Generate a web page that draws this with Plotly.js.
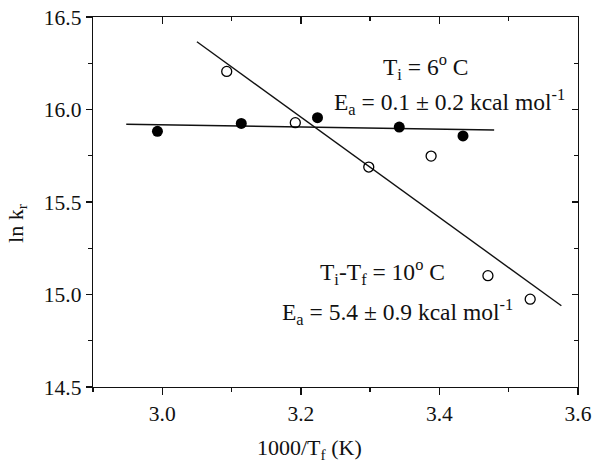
<!DOCTYPE html>
<html>
<head>
<meta charset="utf-8">
<script src="https://cdn.plot.ly/plotly-3.0.1.min.js"></script>
<style>
  body { margin: 0; background: #fff; }
  #plot { width: 602px; height: 474px; }
</style>
</head>
<body>
<div id="plot"></div>
<script>
// Ti = 6 C (filled circles)
const constX = [2.993, 3.114, 3.224, 3.342, 3.434];
const constY = [15.882, 15.925, 15.956, 15.905, 15.857];
// Ti-Tf = 10 C (open circles)
const diffX = [3.093, 3.192, 3.298, 3.388, 3.470, 3.531];
const diffY = [16.206, 15.929, 15.689, 15.748, 15.102, 14.975];
// fit lines, end points
const constFitX = [2.948, 3.479];
const constFitY = [15.920, 15.889];
const diffFitX = [3.050, 3.576];
const diffFitY = [16.366, 14.939];

const serif = 'Liberation Serif, Times New Roman, serif';

const data = [
  { x: constFitX, y: constFitY, mode: 'lines', line: { color: '#111', width: 1.4 }, hoverinfo: 'skip' },
  { x: diffFitX, y: diffFitY, mode: 'lines', line: { color: '#111', width: 1.4 }, hoverinfo: 'skip' },
  { x: constX, y: constY, mode: 'markers',
    marker: { symbol: 'circle', size: 11, color: '#000' } },
  { x: diffX, y: diffY, mode: 'markers',
    marker: { symbol: 'circle-open', size: 10, color: '#000', line: { width: 1.3 } } }
];

const baseAxis = {
  showgrid: false, zeroline: false,
  showline: true, linecolor: '#111', linewidth: 1.3,
  tickcolor: '#111', tickwidth: 1.3,
  tickfont: { family: serif, size: 21.5, color: '#111' }
};

const layout = {
  width: 602, height: 474,
  margin: { l: 93, r: 24, t: 17, b: 87 },
  paper_bgcolor: '#fff', plot_bgcolor: '#fff',
  showlegend: false,
  xaxis: Object.assign({}, baseAxis, {
    range: [2.9, 3.6], tick0: 3.0, dtick: 0.2, tickformat: '.1f',
    ticks: 'outside', ticklen: 7,
    minor: { dtick: 0.1, ticks: 'outside', ticklen: 4, tickcolor: '#111', tickwidth: 1.3 },
    automargin: false
  }),
  yaxis: Object.assign({}, baseAxis, {
    range: [14.5, 16.5], dtick: 0.5, tickformat: '.1f',
    ticks: 'outside', ticklen: 6,
    minor: { dtick: 0.25, ticks: 'outside', ticklen: 4, tickcolor: '#111', tickwidth: 1.3 },
    automargin: false
  }),
  xaxis2: Object.assign({}, baseAxis, {
    overlaying: 'x', matches: 'x', side: 'top', anchor: 'y',
    range: [2.9, 3.6], tick0: 3.0, dtick: 0.2,
    ticks: 'inside', ticklen: 7, showticklabels: false,
    minor: { dtick: 0.1, ticks: 'inside', ticklen: 4, tickcolor: '#111', tickwidth: 1.3 }
  }),
  yaxis2: Object.assign({}, baseAxis, {
    overlaying: 'y', matches: 'y', side: 'right', anchor: 'x',
    range: [14.5, 16.5], dtick: 0.5,
    ticks: 'inside', ticklen: 6, showticklabels: false,
    minor: { dtick: 0.25, ticks: 'inside', ticklen: 4, tickcolor: '#111', tickwidth: 1.3 }
  }),
  annotations: [
    { x: 3.38, y: 16.23, text: 'T<sub>i</sub> = 6<sup>o</sup> C' },
    { x: 3.414, y: 16.04, text: 'E<sub>a</sub> = 0.1 ± 0.2 kcal mol<sup>-1</sup>' },
    { x: 3.318, y: 15.123, text: 'T<sub>i</sub>-T<sub>f</sub> = 10<sup>o</sup> C' },
    { x: 3.34, y: 14.907, text: 'E<sub>a</sub> = 5.4 ± 0.9 kcal mol<sup>-1</sup>' }
  ].map(a => Object.assign({
    xref: 'x', yref: 'y', showarrow: false,
    font: { family: serif, size: 23.5, color: '#111' }
  }, a)).concat([
    // axis titles, placed where the reference has them
    { x: 3.212, xref: 'x', y: -0.168, yref: 'paper', xanchor: 'center', yanchor: 'middle',
      text: '1000/T<sub>f</sub> (K)', showarrow: false,
      font: { family: serif, size: 22, color: '#111' } },
    { x: -0.157, xref: 'paper', y: 0.443, yref: 'paper', xanchor: 'center', yanchor: 'middle',
      textangle: -90, text: 'ln k<sub>r</sub>', showarrow: false,
      font: { family: serif, size: 22, color: '#111' } }
  ])
};

// empty helper trace so the mirrored axes get drawn
data.push({ x: [null], y: [null], xaxis: 'x2', yaxis: 'y2', mode: 'markers', hoverinfo: 'skip' });

Plotly.newPlot('plot', data, layout, { displayModeBar: false, staticPlot: true });
</script>
</body>
</html>
